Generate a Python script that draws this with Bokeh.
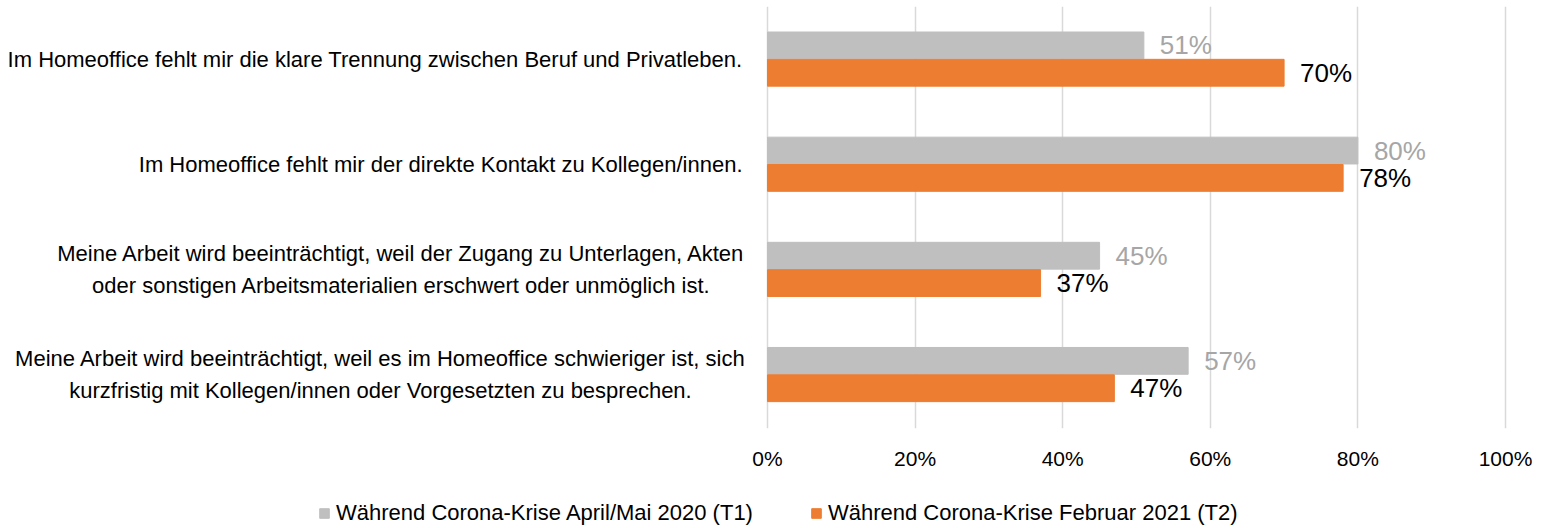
from bokeh.plotting import figure
from bokeh.layouts import column
from bokeh.models import (ColumnDataSource, Range1d, FixedTicker, PrintfTickFormatter,
                          Legend, LegendItem)
from bokeh.core.properties import value
from bokeh.embed import file_html
from bokeh.resources import INLINE

categories = [
    "Im Homeoffice fehlt mir die klare Trennung zwischen Beruf und Privatleben.",
    "Im Homeoffice fehlt mir der direkte Kontakt zu Kollegen/innen.",
    "Meine Arbeit wird beeinträchtigt, weil der Zugang zu Unterlagen, Akten\noder sonstigen Arbeitsmaterialien erschwert oder unmöglich ist.",
    "Meine Arbeit wird beeinträchtigt, weil es im Homeoffice schwieriger ist, sich\nkurzfristig mit Kollegen/innen oder Vorgesetzten zu besprechen.",
]
t1 = [51, 80, 45, 57]
t2 = [70, 78, 37, 47]
series_names = ["Während Corona-Krise April/Mai 2020 (T1)",
                "Während Corona-Krise Februar 2021 (T2)"]
x_ticks = [0, 20, 40, 60, 80, 100]

FONT = "Liberation Sans"
GRAY = "#bfbfbf"
ORANGE = "#ed7d31"

n = len(categories)
pos = list(range(n))
off = 0.13
bh = 0.255

src1 = ColumnDataSource(dict(y=[p - off for p in pos], v=t1, lab=[f"{v}%" for v in t1]))
src2 = ColumnDataSource(dict(y=[p + off for p in pos], v=t2, lab=[f"{v}%" for v in t2]))

W = 1541
p = figure(width=W, height=488, output_backend="svg", toolbar_location=None,
           x_range=Range1d(-103.93, 104.88), y_range=Range1d(3.513, -0.5),
           y_axis_location=None, min_border_left=0, min_border_right=0,
           min_border_top=6, min_border_bottom=60)
p.outline_line_color = None
p.background_fill_color = "white"
p.border_fill_color = "white"

# grid
p.xgrid.ticker = FixedTicker(ticks=x_ticks)
p.xgrid.grid_line_color = "#d9d9d9"
p.xgrid.grid_line_width = 1.5
p.ygrid.visible = False

# axis
ax = p.xaxis[0]
ax.ticker = FixedTicker(ticks=x_ticks)
ax.formatter = PrintfTickFormatter(format="%d%%")
ax.axis_line_color = None
ax.major_tick_line_color = None
ax.minor_tick_line_color = None
ax.major_tick_out = 0
ax.major_tick_in = 0
ax.minor_tick_out = 0
ax.major_label_text_font = FONT
ax.major_label_text_font_size = "21px"
ax.major_label_text_color = "#000000"
ax.major_label_standoff = 18

r1 = p.hbar(y="y", right="v", left=0, height=bh, source=src1, color=GRAY)
r2 = p.hbar(y="y", right="v", left=0, height=bh, source=src2, color=ORANGE)

p.text(x="v", y="y", text="lab", source=src1, x_offset=16, text_align="left",
       text_baseline="middle", text_font=value(FONT), text_font_size="26px",
       text_color="#a6a6a6")
p.text(x="v", y="y", text="lab", source=src2, x_offset=16, text_align="left",
       text_baseline="middle", text_font=value(FONT), text_font_size="26px",
       text_color="#000000")

# category labels (left of the 0 line)
single = [i for i, c in enumerate(categories) if "\n" not in c]
multi = [i for i, c in enumerate(categories) if "\n" in c]
p.text(x=[0] * len(single), y=[pos[i] for i in single], text=[categories[i] for i in single],
       x_offset=-25, text_align="right", text_baseline="middle",
       text_font=value(FONT), text_font_size="22px", text_color="#000000")
centers = {2: -366, 3: -387}
for i in multi:
    p.text(x=[0], y=[pos[i]], text=[categories[i]], x_offset=centers[i],
           text_align="center", text_baseline="middle", text_line_height=1.25,
           text_font=value(FONT), text_font_size="22px", text_color="#000000")

# legend strip (its bars lie outside the visible range; only the legend shows)
lg = figure(width=W, height=40, output_backend="svg", toolbar_location=None,
            x_range=Range1d(0, 1), y_range=Range1d(100, 101),
            x_axis_location=None, y_axis_location=None,
            min_border_left=0, min_border_right=0, min_border_top=0, min_border_bottom=0)
lg.outline_line_color = None
lg.grid.visible = False
g1 = lg.hbar(y="y", right="v", left=0, height=bh, source=src1, color=GRAY)
g2 = lg.hbar(y="y", right="v", left=0, height=bh, source=src2, color=ORANGE)
legend = Legend(items=[LegendItem(label=series_names[0], renderers=[g1]),
                       LegendItem(label=series_names[1], renderers=[g2])],
                orientation="horizontal", location=(318, 2),
                label_text_font=FONT, label_text_font_size="22px",
                label_text_color="#000000",
                glyph_width=12, glyph_height=12, label_standoff=6, spacing=57,
                border_line_color=None, background_fill_alpha=0,
                padding=2, margin=0)
lg.add_layout(legend, "center")

layout = column(p, lg, spacing=0)
open("out.html", "w").write(file_html(layout, INLINE))
